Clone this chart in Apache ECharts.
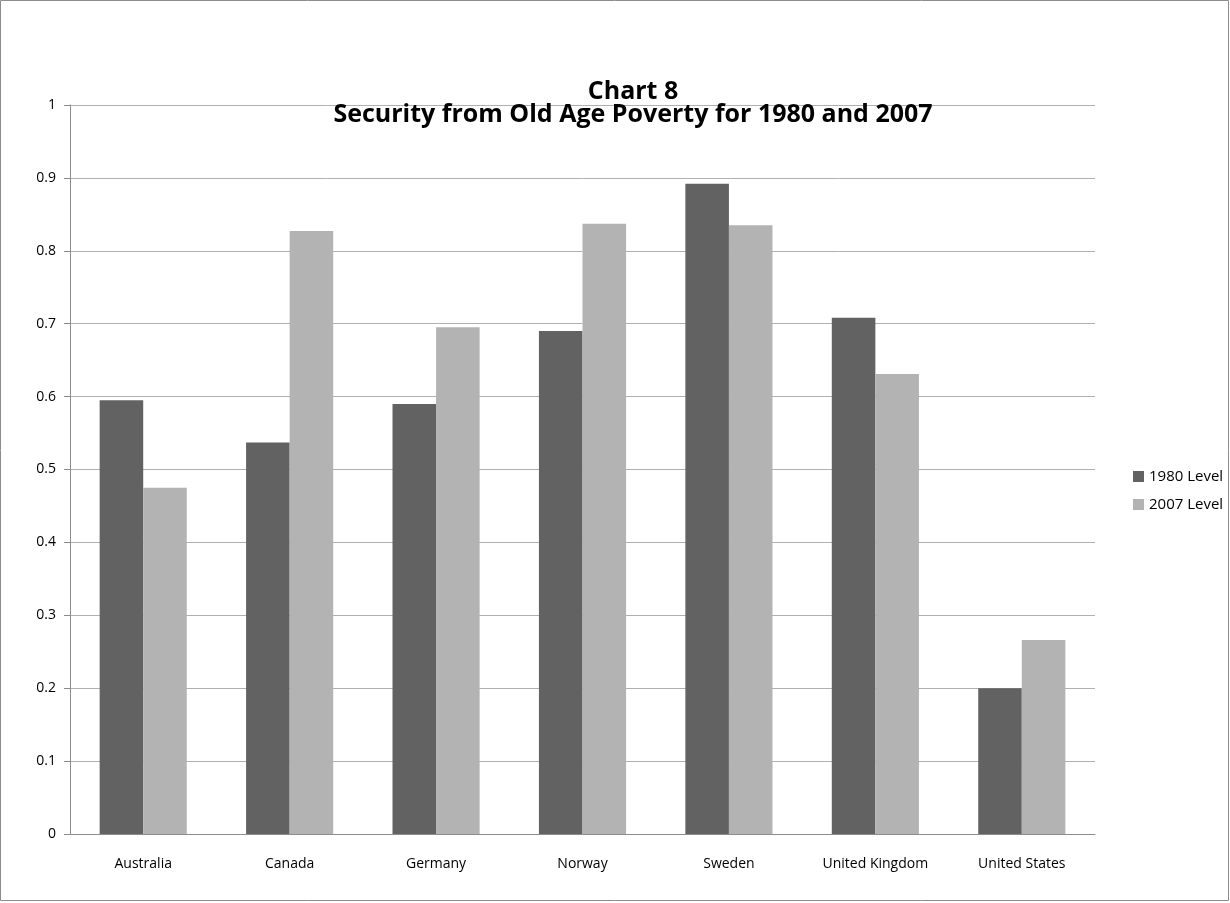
<!DOCTYPE html>
<html><head><meta charset="utf-8">
<script src="https://cdn.jsdelivr.net/npm/echarts@6/dist/echarts.min.js"></script>
<style>html,body{margin:0;padding:0;background:#fff}#c{width:1230px;height:903px}</style>
</head><body><div id="c"></div>
<script>
const categories = ['Australia','Canada','Germany','Norway','Sweden','United Kingdom','United States'];
const level1980 = [0.595, 0.537, 0.590, 0.690, 0.892, 0.708, 0.200];
const level2007 = [0.475, 0.827, 0.695, 0.837, 0.835, 0.631, 0.266];
const seriesNames = ['1980 Level','2007 Level'];
const font = '"Open Sans", "Liberation Sans", sans-serif';
const chart = echarts.init(document.getElementById('c'));
chart.setOption({
  animation:false,
  graphic:[{type:'rect',shape:{x:0.5,y:0.5,width:1228,height:900},style:{fill:'none',stroke:'#8c8c8c',lineWidth:1}}],
  title:{text:'Chart 8\nSecurity from Old Age Poverty for 1980 and 2007',left:628,top:75,textAlign:'center',
    textStyle:{fontFamily:font,fontWeight:'bold',fontSize:25,lineHeight:23,color:'#000'}},
  legend:{orient:'vertical',left:1128,top:464,itemWidth:11,itemHeight:11,itemGap:13,icon:'rect',
    textStyle:{fontFamily:font,fontSize:15,color:'#000'},data:seriesNames},
  grid:{left:70,right:135,top:105,bottom:69},
  xAxis:{type:'category',data:categories,axisLine:{lineStyle:{color:'#8c8c8c'}},axisTick:{show:false},
    axisLabel:{fontFamily:font,fontSize:14,color:'#000',margin:23}},
  yAxis:{type:'value',min:0,max:1,interval:0.1,axisLine:{show:true,lineStyle:{color:'#8c8c8c'}},
    axisTick:{show:true,length:6,inside:false,lineStyle:{color:'#8c8c8c'}},
    splitLine:{lineStyle:{color:'#b0b0b0'}},
    axisLabel:{fontFamily:font,fontSize:14,color:'#000',margin:14,formatter:v=>String(+v.toFixed(1))}},
  series:[
    {name:seriesNames[0],type:'bar',data:level1980,itemStyle:{color:'#626262'},barGap:'0%',barCategoryGap:'40.5%'},
    {name:seriesNames[1],type:'bar',data:level2007,itemStyle:{color:'#b3b3b3'},barGap:'0%',barCategoryGap:'40.5%'}
  ]
});
</script></body></html>
